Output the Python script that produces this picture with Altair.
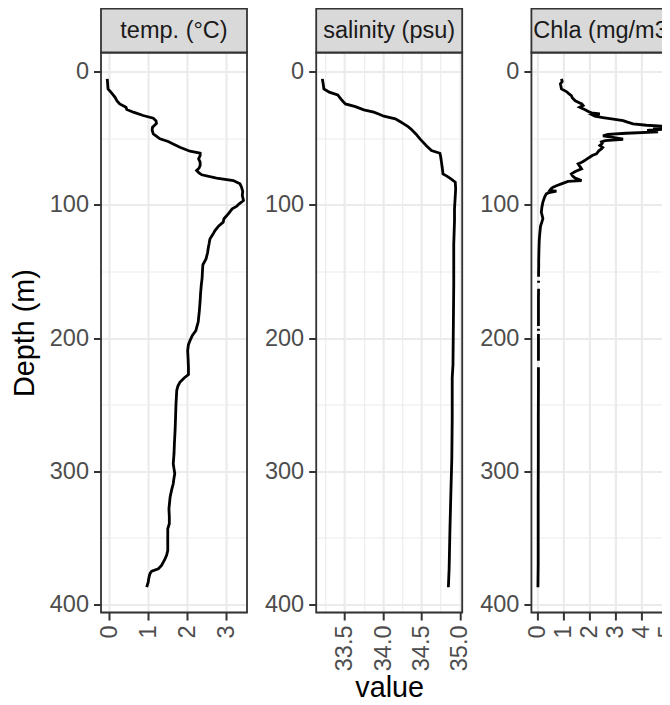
import json
import altair as alt
import pandas as pd

# ---------------- data ----------------
temp_depth = [5.5, 9, 13, 16, 19.3, 22, 24.3, 26.8, 28.5, 30.5, 33, 35, 37, 39, 41.8, 44, 46.8,
              50.5, 52.5, 56.8, 59.8, 61.3, 63, 65.5, 68, 70.5, 72.5, 74.3, 76, 77.5, 80, 81.8,
              84.3, 86.8, 90, 93, 96.8, 99.3, 101, 103, 106.8, 110.5, 113, 116, 119.3, 122,
              125.6, 129, 132, 136, 140.6, 145, 149.3, 155, 160, 166.8, 172, 179.4, 185, 188,
              191, 194.4, 198, 201.9, 205, 209.4, 215, 221.9, 227.4, 230, 233.2, 236, 239.4,
              245, 250, 259.4, 268, 279.4, 287, 294.4, 298, 301.9, 305, 309.4, 314, 319.5,
              328.2, 334, 339.4, 343.2, 350, 359.5, 363, 365.7, 368, 370.7, 373.2, 375, 376.5,
              378.2, 381, 383.3, 387]
temp_value = [-0.05, -0.04, -0.03, 0.06, 0.15, 0.2, 0.27, 0.43, 0.45, 0.62, 0.87, 1.13, 1.2, 1.21,
              1.11, 1.1, 1.13, 1.30, 1.51, 1.81, 2.07, 2.33, 2.33, 2.29, 2.33, 2.33, 2.3, 2.24,
              2.3, 2.37, 2.75, 3.18, 3.35, 3.39, 3.42, 3.41, 3.44, 3.33, 3.27, 3.15, 3.05, 2.94,
              2.92, 2.80, 2.71, 2.66, 2.58, 2.56, 2.54, 2.52, 2.48, 2.40, 2.39, 2.38, 2.36, 2.34,
              2.33, 2.31, 2.29, 2.28, 2.25, 2.22, 2.13, 2.07, 2.03, 2.01, 2.02, 2.03, 2.03, 1.92,
              1.81, 1.76, 1.73, 1.72, 1.71, 1.70, 1.69, 1.67, 1.66, 1.64, 1.66, 1.68, 1.66, 1.64,
              1.60, 1.56, 1.53, 1.54, 1.54, 1.50, 1.50, 1.50, 1.47, 1.43, 1.39, 1.34, 1.26, 1.09,
              1.05, 1.03, 1.01, 1.00, 0.96]

sal_depth = [5.5, 9, 13, 15.5, 17.5, 19, 20.5, 22.5, 24.3, 26.3, 28.8, 30.5, 32, 33.5, 35.5, 37.5,
             39.3, 41.5, 43.5, 47, 50.5, 53, 56, 59.3, 61.3, 64, 68, 72, 76.8, 78.5, 80, 83, 88,
             93, 103, 111.8, 130, 160, 190, 220, 230, 260, 290, 322, 345, 373, 380, 387]
sal_value = [33.21, 33.22, 33.23, 33.30, 33.41, 33.43, 33.45, 33.48, 33.51, 33.64, 33.75, 33.88,
             33.95, 34.01, 34.16, 34.22, 34.27, 34.33, 34.37, 34.43, 34.48, 34.52, 34.57, 34.63,
             34.74, 34.75, 34.76, 34.77, 34.78, 34.83, 34.87, 34.94, 34.945, 34.94, 34.93, 34.93,
             34.92, 34.92, 34.915, 34.91, 34.90, 34.90, 34.895, 34.88, 34.87, 34.86, 34.855, 34.85]

chla_depth = [5.5, 7.5, 9.3, 11, 13, 15, 16.5, 18, 19.5, 20.5, 22, 23, 24.3, 25.5, 26.8, 27.5, 28.5,
              30, 31, 31.8, 32.5, 33.5, 34.5, 35.5, 36.8, 38, 39.3, 40.3, 41.3, 42.3, 43.2, 44.2,
              45.3, 46.3, 47.2, 48.3, 49.5, 50.8, 51.8, 52.8, 54, 55.5, 57, 58, 59.5, 61.8, 63,
              64.3, 65.5, 66.8, 68, 69.3, 71, 73, 75, 76.8, 78.5, 80, 81.8, 82.5, 84.3, 85.5, 86.8,
              88, 89.3, 89.8, 90.8, 91.8, 94, 98, 102, 105.6, 108, 110.5, 113, 116, 121.8, 127, 133,
              141.8, 146, 150, 154, 155.5, 157, 158.5, 160.5, 163, 170, 178, 185, 191, 192, 193,
              194.5, 195.5, 197, 205, 212, 217, 219.5, 222, 235, 260, 290, 320, 350, 370, 387]
chla_value = [0.92, 0.95, 0.88, 0.90, 0.92, 1.11, 1.2, 1.30, 1.33, 1.37, 1.45, 1.56, 1.7, 1.75, 1.62,
              1.7, 1.81, 1.95, 2.07, 2.39, 2.1, 2.20, 2.5, 2.84, 3.28, 3.45, 3.66, 4.18, 5.05, 4.43,
              4.85, 4.20, 4.62, 3.40, 2.70, 2.51, 2.95, 3.28, 2.60, 2.45, 2.48, 2.39, 2.50, 2.45,
              2.35, 2.26, 2.10, 2.00, 1.90, 1.81, 1.70, 1.56, 1.62, 1.69, 1.45, 1.30, 1.35, 1.45,
              1.69, 1.17, 0.92, 0.75, 0.60, 0.52, 0.47, 0.73, 0.45, 0.34, 0.28, 0.21, 0.17, 0.15,
              0.18, 0.21, 0.17, 0.12, 0.09, 0.07, 0.06, 0.05, 0.05, 0.045, 0.045, None, 0.045,
              0.045, None, 0.045, 0.04, 0.04, 0.04, 0.04, None, 0.04, 0.04, None, 0.04, 0.04, 0.04,
              0.04, None, 0.04, 0.04, 0.035, 0.035, 0.03, 0.03, 0.03, 0.02]

panels = [
    # label, depths, values, x-domain, major ticks, minor ticks, format
    ("temp. (°C)", temp_depth, temp_value, [-0.21, 3.53], [0, 1, 2, 3], [0.5, 1.5, 2.5, 3.5], "d"),
    ("salinity (psu)", sal_depth, sal_value, [33.13, 35.03], [33.5, 34.0, 34.5, 35.0],
     [33.25, 33.75, 34.25, 34.75], ".1f"),
    ("Chla (mg/m3)", chla_depth, chla_value, [-0.23, 5.36], [0, 1, 2, 3, 4, 5],
     [0.5, 1.5, 2.5, 3.5, 4.5], "d"),
]
y_major = [0, 100, 200, 300, 400]
y_minor = [50, 150, 250, 350]

# ---------------- styling ----------------
FONT = "Liberation Sans"
W, H = 146, 560
STRIP = 44
YDOM = [-14.3, 406]
LBL = 23.5
TTL = 28.75


def axis(majors, minors, fmt, orient_x, **extra):
    test = "indexof(%s, datum.value) >= 0" % json.dumps(majors)
    props = dict(
        values=sorted(majors + minors),
        labelExpr="%s ? datum.label : ''" % test,
        format=fmt,
        labelFontSize=LBL, labelColor="#4D4D4D", labelPadding=5,
        labelOverlap=False, labelFlush=False,
        tickSize=7.5, tickWidth=2, tickColor="#333333",
        tickOpacity={"condition": {"test": test, "value": 1}, "value": 0},
        grid=True, gridColor="#EBEBEB",
        gridWidth={"condition": {"test": test, "value": 2.2}, "value": 1.1},
        domain=False,
        titleFontSize=TTL, titleFontWeight="normal", titleColor="black",
    )
    if orient_x:
        props.update(labelAngle=270, labelAlign="right", labelBaseline="middle",
                     titleBaseline="alphabetic", titleY=83.5)
    else:
        props.update(titlePadding=10)
    props.update(extra)
    return alt.Axis(**props)


charts = []
for i, (label, depths, values, xdom, majors, minors, fmt) in enumerate(panels):
    df = pd.DataFrame({"depth": depths, "value": values})
    xkw = {"title": "value"} if i == 1 else {"title": None}
    ykw = {"title": "Depth (m)"} if i == 0 else {"title": None}
    line = alt.Chart(df).mark_line(
        color="black", strokeWidth=2.8, invalid="break-paths-filter-domains"
    ).encode(
        x=alt.X("value:Q", scale=alt.Scale(domain=xdom, nice=False, zero=False),
                axis=axis(majors, minors, fmt, True), **xkw),
        y=alt.Y("depth:Q", scale=alt.Scale(domain=YDOM, reverse=True, nice=False, zero=False),
                axis=axis(y_major, y_minor, "d", False), **ykw),
        order=alt.Order("depth:Q"),
    )
    sdf = pd.DataFrame({"label": [label]})
    strip_rect = alt.Chart(sdf).mark_rect(
        fill="#D9D9D9", stroke="#333333", strokeWidth=1.8
    ).encode(x=alt.value(0), x2=alt.value(W), y=alt.value(-STRIP), y2=alt.value(0))
    strip_text = alt.Chart(sdf).mark_text(
        fontSize=LBL, color="#1A1A1A", font=FONT, baseline="middle", align="center"
    ).encode(x=alt.value(W / 2), y=alt.value(-STRIP / 2), text="label:N")
    border = alt.Chart(sdf).mark_rect(
        fill="white", fillOpacity=0, stroke="#333333", strokeWidth=1.8
    ).encode(x=alt.value(0), x2=alt.value(W), y=alt.value(0), y2=alt.value(H))
    charts.append(
        alt.layer(line, border, strip_rect, strip_text).properties(width=W, height=H)
    )

# Fixed-size canvas: the right part of the third panel runs off the edge, as in the reference.
chart = alt.hconcat(*charts, spacing=69.2, bounds="flush").properties(
    autosize=alt.AutoSizeParams(type="none"),
    padding={"left": 93, "top": 44.5, "right": 561, "bottom": 644.5},
).configure_view(strokeWidth=0).configure(font=FONT)

chart.save("out.html", embed_options={"renderer": "svg", "actions": False})
